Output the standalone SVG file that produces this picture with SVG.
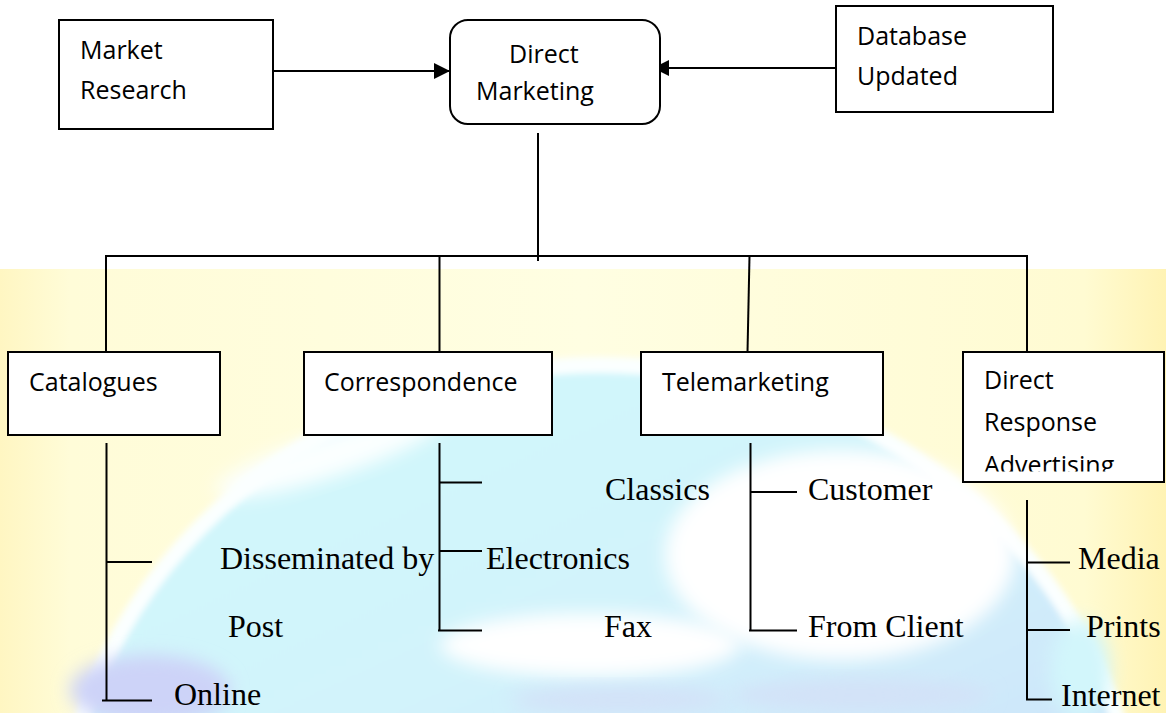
<svg xmlns="http://www.w3.org/2000/svg" width="1166" height="713" viewBox="0 0 1166 713">
<style>
.box{fill:#fff;stroke:#000;stroke-width:2}
.ln{fill:none;stroke:#000;stroke-width:2}
.sans{font-family:"Open Sans","Liberation Sans",sans-serif;font-size:25px;fill:#000}
.serif{font-family:"Liberation Serif","Times New Roman",serif;font-size:32px;fill:#000}
</style>
<defs>
<marker id="arr" viewBox="0 0 16 16" markerUnits="userSpaceOnUse" markerWidth="16" markerHeight="16" refX="16" refY="8" orient="auto">
<path d="M0,0 L16,8 L0,16 z" fill="#000"/>
</marker>
<linearGradient id="yel" x1="0" y1="0" x2="1" y2="0">
<stop offset="0" stop-color="#fff6c2"/>
<stop offset="0.06" stop-color="#fffcd8"/>
<stop offset="0.5" stop-color="#fffee2"/>
<stop offset="0.93" stop-color="#fffbd2"/>
<stop offset="1" stop-color="#fff3b4"/>
</linearGradient>
<linearGradient id="globe" x1="0" y1="0" x2="0.5" y2="1">
<stop offset="0" stop-color="#d0f9fc"/>
<stop offset="0.4" stop-color="#d2f3fb"/>
<stop offset="1" stop-color="#c9d6f8"/>
</linearGradient>
<filter id="soft" x="-30%" y="-30%" width="160%" height="160%"><feGaussianBlur stdDeviation="9"/></filter>
<filter id="edge" x="-10%" y="-10%" width="120%" height="120%"><feGaussianBlur stdDeviation="3"/></filter>
<clipPath id="bgclip"><rect x="0" y="269" width="1166" height="444"/></clipPath>
<clipPath id="draclip"><rect x="960" y="350" width="206" height="121.5"/></clipPath>
</defs>
<g id="background">
<rect x="0" y="269" width="1166" height="444" fill="url(#yel)"/>
<g clip-path="url(#bgclip)">
<ellipse cx="600" cy="860" rx="540" ry="495" fill="url(#globe)" stroke="#fbffff" stroke-width="16" filter="url(#edge)"/>
<ellipse cx="840" cy="555" rx="175" ry="105" fill="#ffffff" filter="url(#soft)"/>
<ellipse cx="590" cy="645" rx="150" ry="32" fill="#ffffff" filter="url(#soft)"/>
<ellipse cx="330" cy="455" rx="120" ry="22" fill="#fbffff" filter="url(#soft)" transform="rotate(-18 330 455)"/>
<ellipse cx="860" cy="695" rx="130" ry="16" fill="#d3e2f8" filter="url(#soft)"/>
<ellipse cx="620" cy="700" rx="110" ry="14" fill="#d3e2f8" filter="url(#soft)"/>
<ellipse cx="150" cy="690" rx="80" ry="35" fill="#cdd3f8" filter="url(#soft)"/>
<ellipse cx="1080" cy="670" rx="30" ry="50" fill="#d2f6fb" filter="url(#soft)"/>
</g>
</g>
<g id="connectors">
<line class="ln" x1="273" y1="71" x2="450" y2="71" marker-end="url(#arr)"/>
<line class="ln" x1="839" y1="68" x2="653" y2="68" marker-end="url(#arr)"/>
<line class="ln" x1="538" y1="133" x2="538" y2="261"/>
<line class="ln" x1="105" y1="256" x2="1028" y2="256"/>
<line class="ln" x1="106" y1="255" x2="106" y2="352"/>
<line class="ln" x1="439.5" y1="256" x2="439.5" y2="352"/>
<line class="ln" x1="749.5" y1="256" x2="747.5" y2="352"/>
<line class="ln" x1="1027" y1="255" x2="1027" y2="352"/>
<line class="ln" x1="106.5" y1="443" x2="106.5" y2="701"/>
<line class="ln" x1="106" y1="562" x2="152" y2="562"/>
<line class="ln" x1="102" y1="700.5" x2="152" y2="700.5"/>
<line class="ln" x1="439.5" y1="443" x2="439.5" y2="631"/>
<line class="ln" x1="439" y1="482.5" x2="482" y2="482.5"/>
<line class="ln" x1="439" y1="551" x2="482" y2="551"/>
<line class="ln" x1="438" y1="630.5" x2="482" y2="630.5"/>
<line class="ln" x1="750.5" y1="443" x2="750.5" y2="631"/>
<line class="ln" x1="750" y1="492" x2="797" y2="492"/>
<line class="ln" x1="749" y1="630.5" x2="797" y2="630.5"/>
<line class="ln" x1="1027" y1="500" x2="1027" y2="700"/>
<line class="ln" x1="1027" y1="562.5" x2="1070" y2="562.5"/>
<line class="ln" x1="1027" y1="630" x2="1070" y2="630"/>
<line class="ln" x1="1026" y1="699.5" x2="1052" y2="699.5"/>
</g>
<g id="market-research">
<rect class="box" x="59" y="20" width="214" height="109"/>
<text class="sans" x="80" y="59">Market</text>
<text class="sans" x="80" y="99">Research</text>
</g>
<g id="direct-marketing">
<rect class="box" x="450" y="20" width="210" height="104" rx="18" ry="18"/>
<text class="sans" x="509" y="63">Direct</text>
<text class="sans" x="476" y="100">Marketing</text>
</g>
<g id="database-updated">
<rect class="box" x="836" y="6" width="217" height="106"/>
<text class="sans" x="857" y="45">Database</text>
<text class="sans" x="857" y="85">Updated</text>
</g>
<g id="catalogues">
<rect class="box" x="8" y="352" width="212" height="83"/>
<text class="sans" x="29" y="391">Catalogues</text>
</g>
<g id="correspondence">
<rect class="box" x="304" y="352" width="248" height="83"/>
<text class="sans" x="324" y="391">Correspondence</text>
</g>
<g id="telemarketing">
<rect class="box" x="641" y="352" width="242" height="83"/>
<text class="sans" x="662" y="391">Telemarketing</text>
</g>
<g id="direct-response-advertising">
<rect class="box" x="963" y="352" width="201" height="130"/>
<g clip-path="url(#draclip)">
<text class="sans" x="984" y="389">Direct</text>
<text class="sans" x="984" y="431">Response</text>
<text class="sans" x="984" y="474">Advertising</text>
</g>
</g>
<g id="catalogue-items">
<text class="serif" x="220" y="569">Disseminated by</text>
<text class="serif" x="228" y="637">Post</text>
<text class="serif" x="174" y="705">Online</text>
</g>
<g id="correspondence-items">
<text class="serif" x="605" y="500">Classics</text>
<text class="serif" x="486" y="569">Electronics</text>
<text class="serif" x="604" y="637">Fax</text>
</g>
<g id="telemarketing-items">
<text class="serif" x="808" y="500">Customer</text>
<text class="serif" x="808" y="637">From Client</text>
</g>
<g id="dra-items">
<text class="serif" x="1078" y="569">Media</text>
<text class="serif" x="1086" y="637">Prints</text>
<text class="serif" x="1061" y="706">Internet</text>
</g>
</svg>
